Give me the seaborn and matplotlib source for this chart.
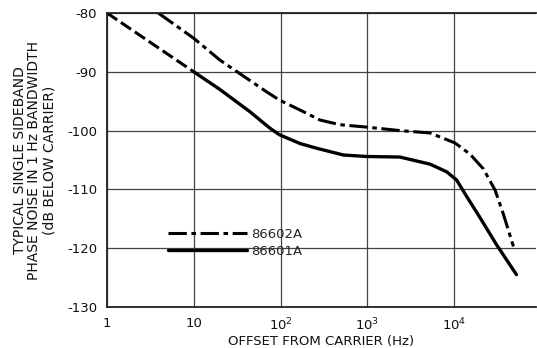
import numpy as np
import pandas as pd
import matplotlib
matplotlib.use("Agg")
import matplotlib.pyplot as plt
import seaborn as sns

# ---- data ----
freq_602 = [3.9, 10, 20, 69, 97, 168, 285, 485, 977, 2380, 5280, 10260, 15280, 21780, 29720, 37070, 48420]
noise_602 = [-80, -84.3, -88, -93.4, -94.8, -96.5, -98.2, -99.0, -99.4, -100.0, -100.4, -102.1, -104.0, -106.5, -110.1, -114.2, -119.7]

freq_601 = [10, 20, 44.5, 75.7, 97, 168, 261, 531, 977, 2380, 5280, 8220, 10720, 14000, 19950, 30900, 52500]
noise_601 = [-90.0, -93.0, -96.8, -99.6, -100.7, -102.2, -103.0, -104.15, -104.4, -104.5, -105.7, -107.0, -108.4, -111.2, -114.8, -119.4, -124.5]

freq_601_ext = [1, 10]
noise_601_ext = [-80, -90.0]

yticks = [-80, -90, -100, -110, -120, -130]
xticks = [1, 10, 100, 1000, 10000]
xticklabels = ["1", "10", "10$^2$", "10$^3$", "10$^4$"]

sns.set_style("white")
plt.rcParams["font.family"] = ["DejaVu Sans"]

fig = plt.figure(figsize=(5.37, 3.48), dpi=100)
ax = fig.add_axes([107/537, 1 - 307/348, (536-107)/537, (307-13)/348])

df602 = pd.DataFrame({"f": freq_602, "n": noise_602})
df601 = pd.DataFrame({"f": freq_601, "n": noise_601})
dfext = pd.DataFrame({"f": freq_601_ext, "n": noise_601_ext})

sns.lineplot(data=df602, x="f", y="n", ax=ax, color="black", lw=2.2,
             linestyle=(0, (6, 1.5, 1.5, 1.5)), label="86602A", sort=False)
sns.lineplot(data=df601, x="f", y="n", ax=ax, color="black", lw=2.4,
             label="86601A", sort=False)
sns.lineplot(data=dfext, x="f", y="n", ax=ax, color="black", lw=2.2,
             linestyle=(0, (4, 1.5)), sort=False, legend=False)

ax.set_xscale("log")
ax.set_xlim(1, 10 ** ((536 - 107) / 86.75))
ax.set_ylim(-130, -80)
ax.set_xticks(xticks)
ax.set_xticklabels(xticklabels)
ax.minorticks_off()
ax.set_yticks(yticks)
ax.set_yticklabels([str(v) for v in yticks])

ax.grid(True, color="#444444", lw=0.9)
for s in ["left", "bottom", "top"]:
    ax.spines[s].set_color("#222222")
    ax.spines[s].set_linewidth(1.3)
ax.spines["right"].set_visible(False)

ax.tick_params(axis="both", direction="out", length=4, width=1, color="#222222",
               labelsize=9.5, labelcolor="#111111", pad=3)

ax.set_xlabel("OFFSET FROM CARRIER (Hz)", fontsize=9.5, color="#111111", labelpad=1)
ax.set_ylabel("TYPICAL SINGLE SIDEBAND\nPHASE NOISE IN 1 Hz BANDWIDTH\n(dB BELOW CARRIER)",
              fontsize=10, color="#111111", labelpad=8, linespacing=1.05)

leg = ax.legend(loc="upper left", bbox_to_anchor=((168-107)/429, 1 - (228-13)/294),
                frameon=False, fontsize=9.5, handlelength=6.0, handletextpad=0.3,
                labelspacing=0.3, borderpad=0, borderaxespad=0)

fig.savefig("out.png", dpi=100)
